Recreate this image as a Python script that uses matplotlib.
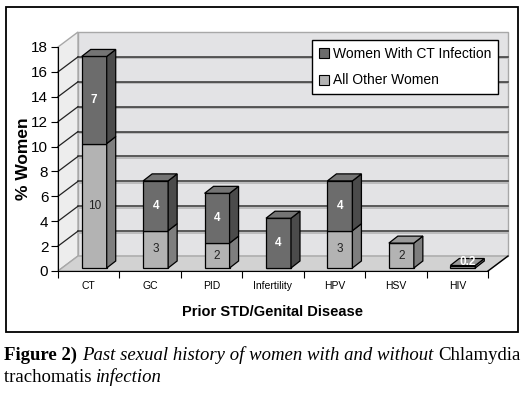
import matplotlib
matplotlib.use("Agg")
import matplotlib.pyplot as plt
from matplotlib.patches import Polygon, Patch, Rectangle
from matplotlib.lines import Line2D

# data (% women)
categories = ["CT", "GC", "PID", "Infertility", "HPV", "HSV", "HIV"]
other_women = [10, 3, 2, 0, 3, 2, 0.2]
ct_women = [7, 4, 4, 4, 4, 0, 0]
y_ticks = list(range(0, 19, 2))

W, H = 526, 393
fig = plt.figure(figsize=(W / 100, H / 100), dpi=100)
plt.rcParams['font.family'] = ['Liberation Sans', 'DejaVu Sans']

# front plane of the pseudo-3D chart
ax = fig.add_axes([58 / W, 1 - 271 / H, 430 / W, 224 / H])
ax.set_xlim(-0.5, 6.5)
ax.set_ylim(0, 18)
ax.set_facecolor("none")

px_x = 430 / 7          # pixels per category
px_y = 224 / 18         # pixels per unit
DX, DY = 20 / px_x, 15 / px_y      # wall depth
BX, BY = 5.5 / px_x, 3 / px_y      # bar set-back
BW = 25 / px_x                      # bar width
SX, SY = 9 / px_x, 7 / px_y        # bar depth

wall_edge = "#a8a8a8"
# back wall, left wall and floor
ax.add_patch(Polygon([(-0.5 + DX, DY), (6.5 + DX, DY), (6.5 + DX, 18 + DY), (-0.5 + DX, 18 + DY)],
                     closed=True, fc="#e3e3e5", ec=wall_edge, lw=1, clip_on=False, zorder=0))
ax.add_patch(Polygon([(-0.5, 0), (-0.5 + DX, DY), (-0.5 + DX, 18 + DY), (-0.5, 18)],
                     closed=True, fc="#ededed", ec=wall_edge, lw=1, clip_on=False, zorder=0))
ax.add_patch(Polygon([(-0.5, 0), (6.5, 0), (6.5 + DX, DY), (-0.5 + DX, DY)],
                     closed=True, fc="#d2d2d2", ec=wall_edge, lw=1, clip_on=False, zorder=0))
ax.add_line(Line2D([6.5, 6.5 + DX], [0, DY], color="black", lw=1, clip_on=False, zorder=1))

# gridlines on back wall and left wall
for t in y_ticks[1:-1]:
    ax.add_line(Line2D([-0.5 + DX, 6.5 + DX], [t + DY - 0.12, t + DY - 0.12], color="#b5b5b5",
                       lw=1.2, clip_on=False, zorder=1))
    ax.add_line(Line2D([-0.5 + DX, 6.5 + DX], [t + DY, t + DY], color="#333333", lw=1.1,
                       clip_on=False, zorder=1))
    ax.add_line(Line2D([-0.5, -0.5 + DX], [t, t + DY], color="#222222", lw=0.9,
                       clip_on=False, zorder=1))

dark_front, dark_side, dark_top = "#6c6c6c", "#4b4b4b", "#747474"
light_front, light_side, light_top = "#b3b3b3", "#7e7e7e", "#9a9a9a"

xs = [i + BX for i in range(len(categories))]
ax.bar(xs, other_women, width=BW, bottom=BY, color=light_front, edgecolor="black", lw=0.9, zorder=3)
tops_other = [BY + v for v in other_women]
ax.bar(xs, ct_women, width=BW, bottom=tops_other, color=dark_front, edgecolor="black", lw=0.9, zorder=3)

for i, x in enumerate(xs):
    x0, x1 = x - BW / 2, x + BW / 2
    segs = [(BY, BY + other_women[i], light_side, light_top),
            (BY + other_women[i], BY + other_women[i] + ct_women[i], dark_side, dark_top)]
    segs = [s for s in segs if s[1] > s[0]]
    for b, t, sc, tc in segs:
        ax.add_patch(Polygon([(x1, b), (x1 + SX, b + SY), (x1 + SX, t + SY), (x1, t)],
                             closed=True, fc=sc, ec="black", lw=0.9, zorder=3, clip_on=False))
    b, t, sc, tc = segs[-1]
    ax.add_patch(Polygon([(x0, t), (x1, t), (x1 + SX, t + SY), (x0 + SX, t + SY)],
                         closed=True, fc=tc, ec="black", lw=0.9, zorder=3, clip_on=False))

    # value labels
    v = other_women[i]
    if v > 0:
        if v < 1:
            ax.text(x + SX / 2, BY + v + SY / 2, f"{v:g}", color="white", fontsize=8.5,
                    fontweight="bold", ha="center", va="center", zorder=5)
        else:
            ax.text(x, BY + v / 2, f"{v:g}", color="#222222", fontsize=8.5,
                    ha="center", va="center", zorder=5)
    v2 = ct_women[i]
    if v2 > 0:
        ax.text(x, BY + v + v2 / 2, f"{v2:g}", color="white", fontsize=8.5,
                fontweight="bold", ha="center", va="center", zorder=5)

# axes styling
for s in ["top", "right"]:
    ax.spines[s].set_visible(False)
ax.spines["left"].set_zorder(2)
ax.spines["bottom"].set_zorder(2)
ax.set_yticks(y_ticks)
ax.tick_params(axis="y", direction="out", length=5, labelsize=11, pad=2)
ax.set_xticks([i - 0.5 for i in range(len(categories) + 1)])
ax.set_xticklabels([])
ax.tick_params(axis="x", which="major", direction="out", length=5)
ax.set_xticks(range(len(categories)), minor=True)
ax.set_xticklabels(categories, minor=True, fontsize=7.5)
ax.tick_params(axis="x", which="minor", length=0, pad=7)
ax.set_ylabel("% Women", fontsize=12.5, fontweight="bold", labelpad=0)
ax.set_xlabel("Prior STD/Genital Disease", fontsize=10.5, fontweight="bold", labelpad=10)

ax.legend(handles=[Patch(fc=dark_front, ec="black", lw=0.8, label="Women With CT Infection"),
                   Patch(fc=light_front, ec="black", lw=0.8, label="All Other Women")],
          loc="upper left", bbox_to_anchor=(312 / W, 1 - 40 / H), bbox_transform=fig.transFigure,
          fancybox=False, edgecolor="black", framealpha=1, fontsize=10,
          handlelength=0.75, handleheight=0.75, handletextpad=0.25, labelspacing=0.9,
          borderpad=0.5, borderaxespad=0)

# frame around chart
fig.add_artist(Rectangle((6 / W, 1 - 332 / H), 512 / W, 325 / H, transform=fig.transFigure,
                         fill=False, ec="black", lw=1.3))

# caption with mixed styles
serif = ["Liberation Serif", "DejaVu Serif"]
fig.canvas.draw()
renderer = fig.canvas.get_renderer()
lines = [[("Figure 2) ", "normal", "bold"), ("Past sexual history of women with and without ", "italic", "normal"),
          ("Chlamydia", "normal", "normal")],
         [("trachomatis ", "normal", "normal"), ("infection", "italic", "normal")]]
for parts, ypix in zip(lines, [355, 377]):
    xpix = 4
    for txt, style, weight in parts:
        t = fig.text(xpix / W, 1 - ypix / H, txt, family=serif, style=style, weight=weight,
                     fontsize=13.5, ha="left", va="center")
        bb = t.get_window_extent(renderer)
        xpix += bb.width

fig.savefig("out.png", dpi=100)
